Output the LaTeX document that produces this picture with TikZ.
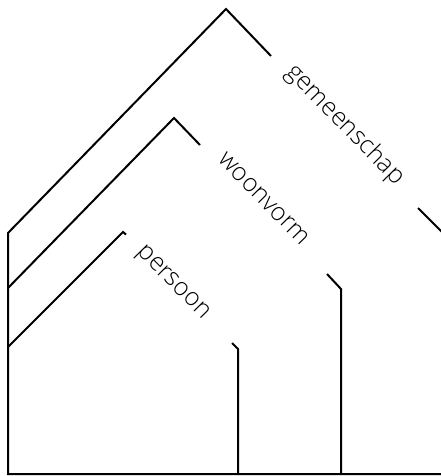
\documentclass[tikz,border=0pt]{standalone}
\usepackage{fontspec}
\setmainfont{Open Sans Light}
\begin{document}
\begin{tikzpicture}[x=1pt,y=-1pt,
  wall/.style={line width=2pt,line join=miter,line cap=butt},
  lbl/.style={inner sep=0pt,font=\fontsize{25}{28}\selectfont,rotate=-45.5}]
\useasboundingbox (0,0) rectangle (441,476);
% named points
\coordinate (b0) at (8,474);
\coordinate (b1) at (460,474);
\coordinate (gw) at (8,233);
\coordinate (ga) at (226,9);
\coordinate (ge) at (271,56);
\coordinate (gs) at (418,208);
\coordinate (gx) at (460,250);
\coordinate (ww) at (8,288);
\coordinate (wa) at (174,118);
\coordinate (we) at (200,145);
\coordinate (ws) at (327,274);
\coordinate (wk) at (341,289);
\coordinate (wb) at (341,474);
\coordinate (pw) at (8,347);
\coordinate (pa) at (123,232);
\coordinate (pe) at (126,234.5);
\coordinate (ps) at (232,343);
\coordinate (pk) at (238,349);
\coordinate (pb) at (238,474);
% house outlines
\draw[wall] (gs) -- (gx);
\draw[wall] (ge) -- (ga) -- (gw) -- (b0) -- (b1);
\draw[wall] (ww) -- (wa) -- (we);
\draw[wall] (ws) -- (wk) -- (wb);
\draw[wall] (pw) -- (pa) -- (pe);
\draw[wall] (ps) -- (pk) -- (pb);
% labels
\node[lbl] (gem) at (345,125) {gemeenschap};
\node[lbl] (woon) at (264,199) {woonvorm};
\node[lbl] (pers) at (172.5,283.5) {persoon};
\end{tikzpicture}
\end{document}
